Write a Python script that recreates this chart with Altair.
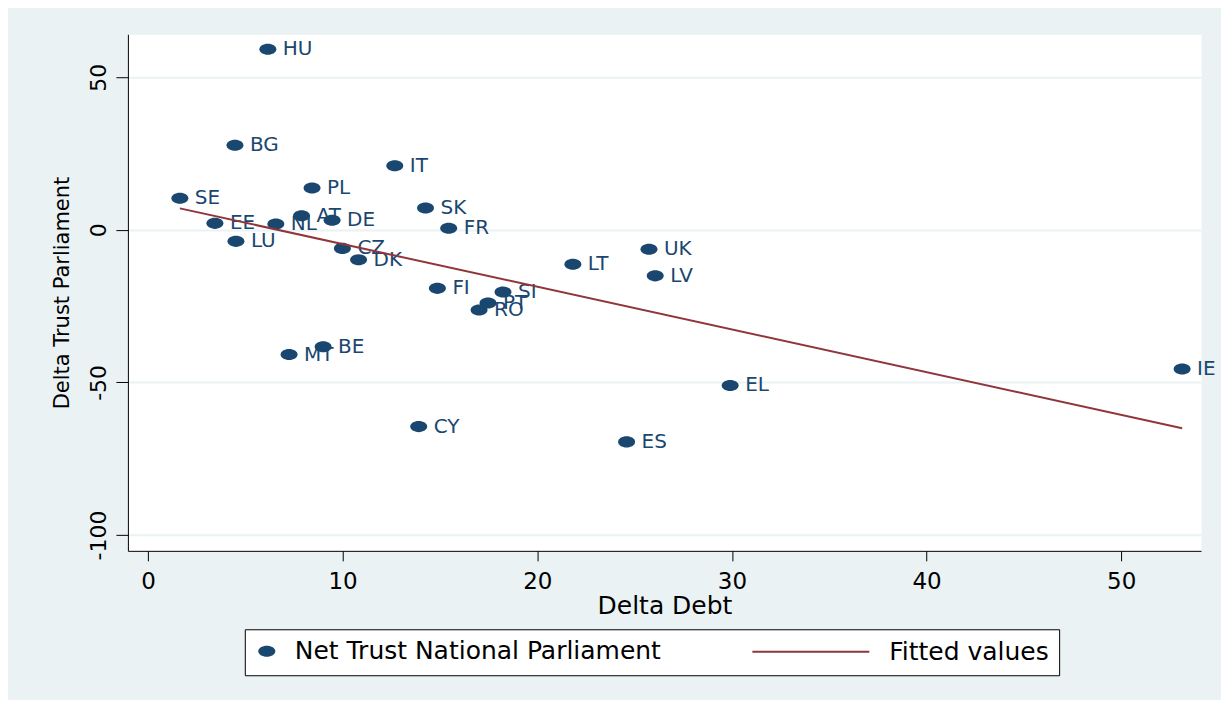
import altair as alt
import pandas as pd

countries = ["HU", "BG", "IT", "PL", "SE", "SK", "AT", "DE", "EE", "NL", "FR", "LU", "CZ", "UK",
             "DK", "LT", "LV", "FI", "SI", "PT", "RO", "BE", "MT", "IE", "EL", "CY", "ES"]
delta_debt = [6.16, 4.47, 12.68, 8.43, 1.64, 14.26, 7.89, 9.46, 3.44, 6.57, 15.45, 4.52, 9.99, 25.74,
              10.82, 21.83, 26.06, 14.87, 18.24, 17.47, 17.01, 9.0, 7.25, 53.13, 29.91, 13.91, 24.59]
delta_trust = [59.15, 27.7, 21.0, 13.7, 10.3, 7.1, 4.6, 3.1, 2.1, 1.9, 0.5, -3.8, -6.1, -6.4,
               -9.8, -11.3, -15.1, -19.2, -20.4, -24.0, -26.3, -38.3, -40.9, -45.6, -51.0, -64.5, -69.5]

x_ticks = [0, 10, 20, 30, 40, 50]
y_ticks = [-100, -50, 0, 50]
points_name = "Net Trust National Parliament"
fit_name = "Fitted values"

NAVY = "#1a476f"
MAROON = "#90353b"
BG = "#EAF2F3"
FONT = "DejaVu Sans"
ELLIPSE = ("M -1,0 C -1,-0.359 -0.5523,-0.65 0,-0.65 C 0.5523,-0.65 1,-0.359 1,0 "
           "C 1,0.359 0.5523,0.65 0,0.65 C -0.5523,0.65 -1,0.359 -1,0 Z")
LINE_SYMBOL = "M -10,0 L 10,0"

df = pd.DataFrame({"country": countries, "debt": delta_debt, "trust": delta_trust})
df["series"] = points_name

xscale = alt.Scale(domain=[-1.03, 54.1], nice=False, zero=False)
yscale = alt.Scale(domain=[-105.2, 64.06], nice=False, zero=False)

xaxis = alt.Axis(values=x_ticks, title="Delta Debt", grid=False, domainColor="black",
                 tickColor="black", tickSize=10, labelFont=FONT, labelFontSize=23,
                 labelColor="black", labelPadding=10, labelFlush=False, labelOverlap=False,
                 titleFont=FONT, titleFontSize=25, titleFontWeight="normal",
                 titleColor="black", titlePadding=0)
yaxis = alt.Axis(values=y_ticks, title="Delta Trust Parliament", grid=True, gridColor=BG,
                 gridWidth=2, domainColor="black", tickColor="black", tickSize=12,
                 labelAngle=270, labelAlign="center", labelBaseline="bottom",
                 labelExpr="'' + datum.value",
                 labelFont=FONT, labelFontSize=22, labelColor="black", labelPadding=5,
                 labelFlush=False, labelOverlap=False,
                 titleFont=FONT, titleFontSize=21, titleFontWeight="normal",
                 titleColor="black", titlePadding=15)

points_legend = alt.Legend(
    title=None, orient="none", legendX=126.5, legendY=605, direction="horizontal",
    padding=0, symbolType=ELLIPSE, symbolSize=289, symbolFillColor=NAVY,
    symbolStrokeColor=NAVY, symbolStrokeWidth=0, symbolOpacity=1,
    labelFont=FONT, labelFontSize=25, labelColor="black", labelLimit=1000,
    labelOffset=15.5, zindex=2,
)
fit_legend = alt.Legend(
    title=None, orient="none", legendX=117, legendY=595.5, direction="horizontal",
    fillColor="white", strokeColor="black", padding=10,
    symbolType=LINE_SYMBOL, symbolSize=137, symbolStrokeColor=MAROON,
    symbolFillColor="transparent", symbolStrokeWidth=2, symbolOffset=544,
    labelFont=FONT, labelFontSize=25, labelColor="black", labelLimit=1000,
    labelOffset=66, zindex=1,
)

base = alt.Chart(df)

points = base.mark_point(filled=True, shape=ELLIPSE, size=289, opacity=1).encode(
    x=alt.X("debt:Q", scale=xscale, axis=xaxis),
    y=alt.Y("trust:Q", scale=yscale, axis=yaxis),
    color=alt.Color("series:N", scale=alt.Scale(domain=[points_name], range=[NAVY]),
                    legend=points_legend),
)

labels = base.mark_text(align="left", baseline="middle", dx=15, font=FONT, fontSize=20,
                        color=NAVY).encode(
    x=alt.X("debt:Q", scale=xscale),
    y=alt.Y("trust:Q", scale=yscale),
    text="country:N",
)

fit = base.transform_regression("debt", "trust").transform_calculate(
    fit_series=f"'{fit_name}'"
).mark_line(strokeWidth=2).encode(
    x=alt.X("debt:Q", scale=xscale),
    y=alt.Y("trust:Q", scale=yscale),
    stroke=alt.Stroke("fit_series:N", scale=alt.Scale(domain=[fit_name], range=[MAROON]),
                      legend=fit_legend),
)

chart = alt.layer(points, labels, fit).properties(
    width=1074, height=517, background=BG,
    padding={"left": 120, "top": 26, "right": 20, "bottom": 149},
    autosize=alt.AutoSizeParams(type="none"),
).configure_view(fill="white", stroke="transparent")

chart.save("out.html", embed_options={"renderer": "svg", "actions": False})
